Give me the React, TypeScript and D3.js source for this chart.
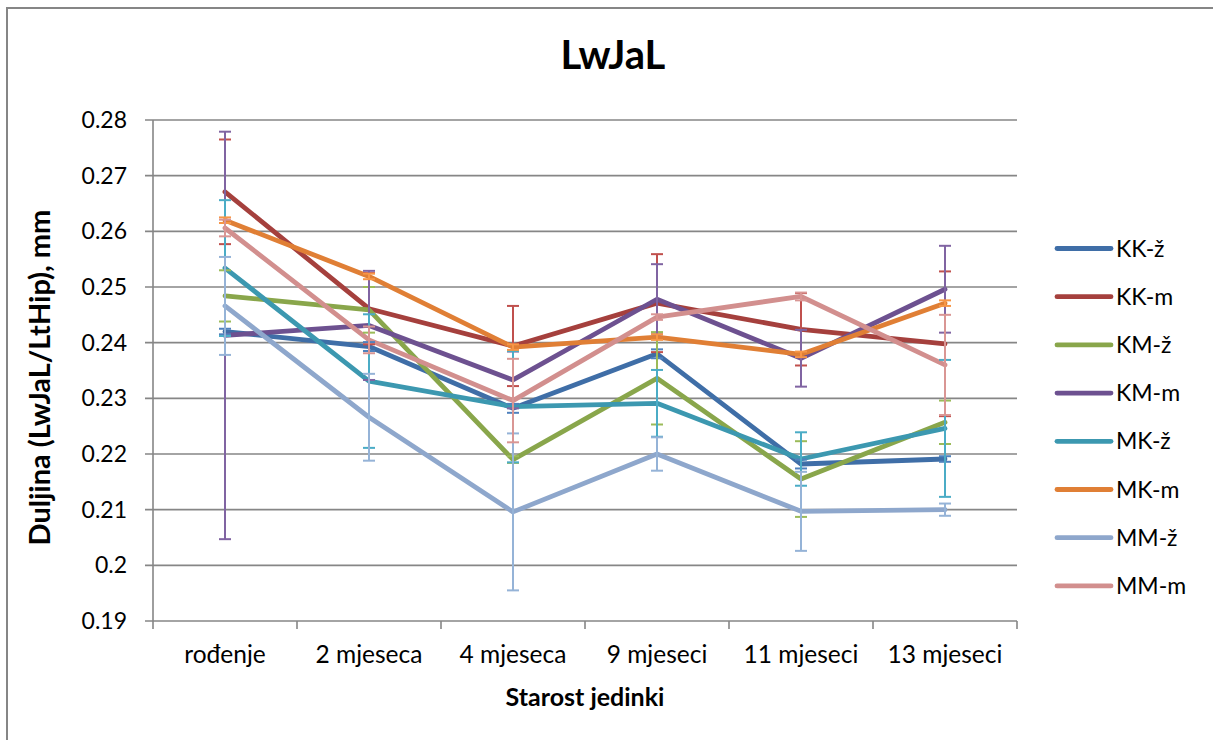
import React from "react";
import * as d3 from "d3";

const categories = ["rođenje", "2 mjeseca", "4 mjeseca", "9 mjeseci", "11 mjeseci", "13 mjeseci"];
const seriesNames = ["KK-ž", "KK-m", "KM-ž", "KM-m", "MK-ž", "MK-m", "MM-ž", "MM-m"];

const kkZ = [0.2420, 0.2393, 0.2282, 0.2380, 0.2182, 0.2191];
const kkM = [0.2671, 0.2461, 0.2394, 0.2471, 0.2424, 0.2398];
const kmZ = [0.2484, 0.2459, 0.2190, 0.2336, 0.2155, 0.2257];
const kmM = [0.2413, 0.2431, 0.2333, 0.2478, 0.2372, 0.2496];
const mkZ = [0.2534, 0.2331, 0.2285, 0.2291, 0.2191, 0.2246];
const mkM = [0.2620, 0.2519, 0.2392, 0.2410, 0.2379, 0.2471];
const mmZ = [0.2466, 0.2266, 0.2096, 0.2200, 0.2097, 0.2100];
const mmM = [0.2606, 0.2405, 0.2296, 0.2446, 0.2483, 0.2360];

const kkZErr = [0.0005, 0.0008, 0.0008, 0.0008, 0.0008, 0.0005];
const kkMErr = [0.0094, 0.0064, 0.0072, 0.0088, 0.0065, 0.0130];
const kmZErr = [0.0046, 0.0041, 0.0006, 0.0083, 0.0068, 0.0039];
const kmMErr = [0.0366, 0.0098, 0.0051, 0.0063, 0.0051, 0.0078];
const mkZErr = [0.0122, 0.0120, 0.0100, 0.0060, 0.0048, 0.0123];
const mkMErr = [0.0005, 0.0005, 0.0005, 0.0005, 0.0005, 0.0005];
const mmZErr = [0.0088, 0.0078, 0.0141, 0.0030, 0.0071, 0.0011];
const mmMErr = [0.0015, 0.0024, 0.0075, 0.0005, 0.0007, 0.0090];

const yTicks = [0.19, 0.2, 0.21, 0.22, 0.23, 0.24, 0.25, 0.26, 0.27, 0.28];

const lineColors = ["#3F6EA7", "#A5403D", "#89A64B", "#6D5190", "#3C98B0", "#E07F35", "#8EA7CC", "#D28F8E"];
const errColors = ["#4F81BD", "#C0504D", "#9BBB59", "#8064A2", "#4BACC6", "#F79646", "#95B3D7", "#D99694"];

const values = [kkZ, kkM, kmZ, kmM, mkZ, mkM, mmZ, mmM];
const errors = [kkZErr, kkMErr, kmZErr, kmMErr, mkZErr, mkMErr, mmZErr, mmMErr];

const FONT = "Lato, 'Open Sans', sans-serif";

export default function App() {
  const W = 1213, H = 740;
  const left = 153, right = 1017, top = 120, bottom = 621;
  const x = d3.scaleBand<string>().domain(categories).range([left, right]).padding(0);
  const y = d3.scaleLinear().domain([0.19, 0.28]).range([bottom, top]);
  const cx = (c: string) => (x(c) as number) + x.bandwidth() / 2;
  const line = d3.line<number>().x((_, i) => cx(categories[i])).y((v) => y(v));
  const grid = "#868686";
  const legendY0 = 248.5, legendStep = 48.2;

  return (
    <svg width={W} height={H} style={{ position: "absolute", left: 0, top: 0, background: "#fff" }}>
      <line x1={7} x2={1213} y1={8} y2={8} stroke={grid} strokeWidth={2} />
      <line x1={7} x2={7} y1={7} y2={740} stroke={grid} strokeWidth={2} />
      <text x={613} y={69} textAnchor="middle" fontFamily={FONT} fontWeight="bold" fontSize={40}>LwJaL</text>

      {yTicks.map((t) => (
        <g key={t}>
          <line x1={left - 8} x2={right} y1={y(t)} y2={y(t)} stroke={grid} strokeWidth={1.6} />
          <text x={127} y={y(t) + 8} textAnchor="end" fontFamily={FONT} fontSize={23} fill="#000">{String(t)}</text>
        </g>
      ))}
      <line x1={left} x2={left} y1={top} y2={bottom + 8} stroke={grid} strokeWidth={1.6} />
      {categories.map((c, i) => (
        <line key={"t" + i} x1={(x(c) as number) + x.bandwidth()} x2={(x(c) as number) + x.bandwidth()} y1={bottom} y2={bottom + 8} stroke={grid} strokeWidth={1.6} />
      ))}
      {categories.map((c) => (
        <text key={c} x={cx(c)} y={663} textAnchor="middle" fontFamily={FONT} fontSize={24.5} fill="#000">{c}</text>
      ))}

      {values.map((vals, s) => (
        <path key={"l" + s} d={line(vals) || ""} fill="none" stroke={lineColors[s]} strokeWidth={4.8} strokeLinejoin="round" strokeLinecap="round" />
      ))}

      {values.map((vals, s) => (
        <g key={"e" + s} stroke={errColors[s]} strokeWidth={2}>
          {vals.map((v, i) => {
            const px = cx(categories[i]);
            const hi = y(v + errors[s][i]);
            const lo = y(v - errors[s][i]);
            return (
              <g key={i}>
                <line x1={px} x2={px} y1={hi} y2={lo} />
                <line x1={px - 6} x2={px + 6} y1={hi} y2={hi} />
                <line x1={px - 6} x2={px + 6} y1={lo} y2={lo} />
              </g>
            );
          })}
        </g>
      ))}

      <text x={585} y={706} textAnchor="middle" fontFamily={FONT} fontWeight="bold" fontSize={25}>Starost jedinki</text>
      <text transform={`translate(50,${(top + bottom) / 2 + 7}) rotate(-90)`} textAnchor="middle" fontFamily={FONT} fontWeight="bold" fontSize={29}>Duljina (LwJaL/LtHip), mm</text>

      {seriesNames.map((n, s) => {
        const ly = legendY0 + s * legendStep;
        return (
          <g key={n}>
            <line x1={1057} x2={1111} y1={ly} y2={ly} stroke={lineColors[s]} strokeWidth={4.8} strokeLinecap="round" />
            <text x={1116} y={ly + 8} fontFamily={FONT} fontSize={23} fill="#000">{n}</text>
          </g>
        );
      })}
    </svg>
  );
}
